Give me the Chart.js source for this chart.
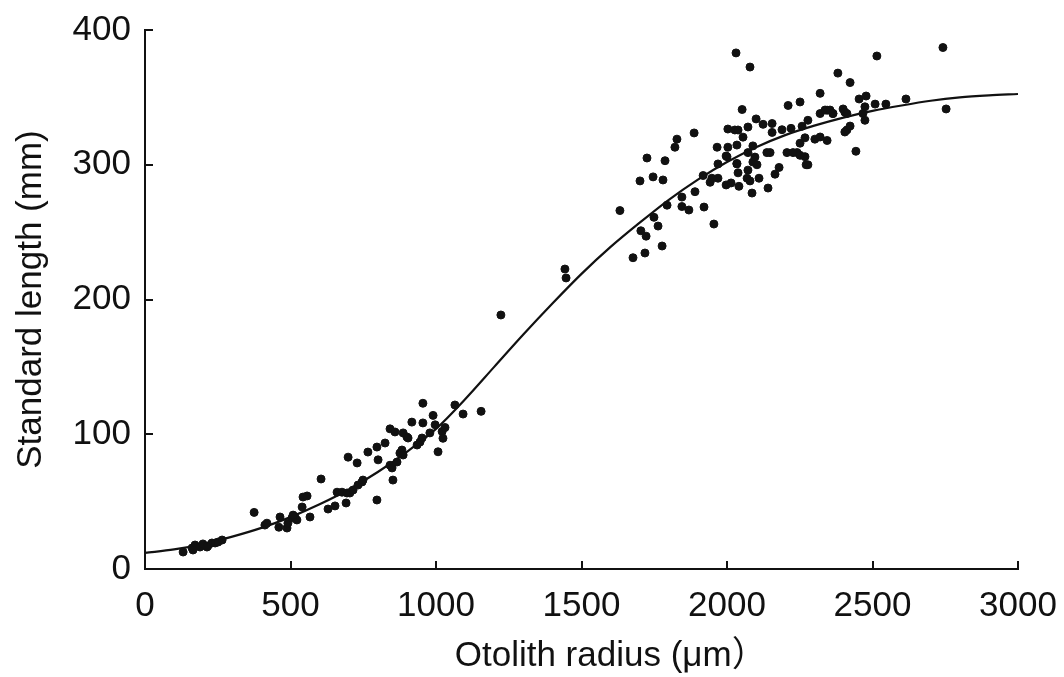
<!DOCTYPE html>
<html>
<head>
<meta charset="utf-8">
<script src="https://cdn.jsdelivr.net/npm/chart.js@4.4.1/dist/chart.umd.min.js"></script>
<style>
  html, body { margin: 0; padding: 0; background: #fff; }
  #wrap { width: 1064px; height: 677px; }
</style>
</head>
<body>
<div id="wrap"><canvas id="c" width="1064" height="677"></canvas></div>
<script>
// fish measurements: otolith radius (um) vs standard length (mm)
const radius = [131,162,172,189,199,216,230,241,251,265,165,213,
  375,412,419,464,460,488,491,505,515,522,509,540,543,557,567,605,
  629,653,691,660,677,694,704,715,732,746,749,698,729,766,797,825,797,801,
  842,859,842,849,852,866,876,883,887,887,900,904,917,935,945,955,952,955,
  979,990,997,1007,1021,1024,1031,1065,1093,1155,1223,1443,1447,
  1632,1677,1718,1777,1704,1722,1749,1763,1701,1746,1780,1725,1787,
  1794,1845,1845,1869,1890,1918,1921,1955,1942,1948,1969,1997,2014,2041,2034,2038,
  1997,1969,2069,2079,2086,2072,2089,2103,2110,2096,2141,2165,2179,
  2148,2206,2241,2268,2278,1821,1828,1887,2031,2079,2052,
  1966,2003,2034,2003,2027,2038,2055,2072,2100,2124,2155,2155,2189,2220,2258,2278,2320,2344,2364,
  2089,2072,2034,2000,2137,2227,2251,2251,2268,2302,2320,2344,2272,
  2210,2251,2320,2381,2423,2515,2742,2753,
  2337,2354,2364,2399,2405,2412,2454,2478,2474,2509,2546,2615,2467,2474,2412,2423,2405,2443]
const lengthMm = [12.6,15.6,17.8,16.3,18.6,17.1,19.3,19.3,20,21.5,14.1,16.3,
  42,32.6,34,38.6,31,30.4,34,37.8,38.6,36.4,40,46,53.4,54.2,38.6,66.8,
  44.5,46.8,49,57,57,56.4,56.4,58.6,62.3,64.6,66,83,78.7,86.8,90.5,93.5,51.2,81,
  104,101.7,77,75,66,79.4,86,88.3,84.6,101,98,97.2,109,92,94.2,108.4,97.2,123,
  101,114,107,87,102,97,105,121.7,115,117,188.5,222.6,216,
  266,231,234.5,239.7,251,247,261,254.5,288,291,288.7,305,303,
  270,276,269,266.4,280,292,268.6,256,287,290,290,285,286.5,284,300.6,294,
  306.5,300.6,290,288,279,296,302,300,290,305.7,282.7,293,298,
  309,309,309,306,300,313,319,323.6,383,372.5,341,
  313,313,314.6,326.5,325.8,325.8,320.5,328,334,330,330.6,324,326,327,328.6,333,338,340.5,338,
  314,309,301,306,309,309,307,316,320,319,320.6,318,300,
  344,346.6,353,368,361,380.7,387,341.4,
  340.6,340.6,338,341.4,339,338,348.8,351,343,345,345,348.8,338,333,325.8,328.7,324.3,310]

// fitted growth curve, every 100 um
const fitX = [0,100,200,300,400,500,600,700,800,900,1000,1100,1200,1300,1400,1500,
  1600,1700,1800,1900,2000,2100,2200,2300,2400,2500,2600,2700,2800,2900,3000]
const fitY = [12,14.5,18.5,24,30.5,38.5,48,59,72,87,104,126,150,174,197,219,
  239,257,274,289,302,313,322,329,335,340,344,347.5,350,351.5,352.5]

const xTicks = [0,500,1000,1500,2000,2500,3000]
const yTicks = [0,100,200,300,400]

const fontFam = "'Liberation Sans', Arial, 'Noto Sans CJK JP', sans-serif"
const ink = '#111'

const inwardTicks = {
  id: 'inwardTicks',
  afterDraw(chart) {
    const {ctx, scales: {x, y}} = chart
    ctx.save()
    ctx.strokeStyle = ink
    ctx.lineWidth = 2
    ctx.beginPath()
    xTicks.forEach(v => {
      if (v === 0) return
      const px = Math.round(x.getPixelForValue(v))
      ctx.moveTo(px, y.bottom)
      ctx.lineTo(px, y.bottom - 8)
    })
    yTicks.forEach(v => {
      if (v === 0) return
      const py = Math.round(y.getPixelForValue(v))
      ctx.moveTo(x.left, py)
      ctx.lineTo(x.left + 8, py)
    })
    ctx.stroke()
    ctx.restore()
  }
}

new Chart(document.getElementById('c'), {
  type: 'scatter',
  data: {
    datasets: [{
      data: radius.map((r, i) => ({x: r, y: lengthMm[i]})),
      backgroundColor: ink,
      borderColor: ink,
      pointRadius: 4,
      pointHoverRadius: 4
    }, {
      type: 'line',
      data: fitX.map((r, i) => ({x: r, y: fitY[i]})),
      borderColor: ink,
      borderWidth: 2.2,
      pointRadius: 0,
      cubicInterpolationMode: 'monotone',
      fill: false
    }]
  },
  options: {
    responsive: false,
    animation: false,
    events: [],
    layout: { padding: {top: 30, right: 46, left: 0, bottom: 0} },
    plugins: { legend: {display: false}, tooltip: {enabled: false} },
    scales: {
      x: {
        type: 'linear', min: 0, max: 3000,
        afterBuildTicks: s => { s.ticks = xTicks.map(v => ({value: v})) },
        afterFit: s => { s.height = 108; s.paddingLeft = 0; s.paddingRight = 0 },
        grid: { display: false, drawTicks: false },
        border: { display: true, color: ink, width: 2 },
        ticks: { color: ink, padding: 16, maxRotation: 0, callback: v => String(v),
          font: {family: fontFam, size: 35} },
        title: { display: true, text: '      Otolith radius (μm）', color: ink, padding: {top: 6, bottom: 0},
          font: {family: fontFam, size: 35} }
      },
      y: {
        type: 'linear', min: 0, max: 400,
        afterBuildTicks: s => { s.ticks = yTicks.map(v => ({value: v})) },
        afterFit: s => { s.width = 145; s.paddingTop = 0; s.paddingBottom = 0 },
        grid: { display: false, drawTicks: false },
        border: { display: true, color: ink, width: 2 },
        ticks: { color: ink, padding: 14, callback: v => String(v),
          font: {family: fontFam, size: 35} },
        title: { display: true, text: 'Standard length (mm)', color: ink, padding: {top: 10, bottom: 0},
          font: {family: fontFam, size: 35} }
      }
    }
  },
  plugins: [inwardTicks]
})
</script>
</body>
</html>
